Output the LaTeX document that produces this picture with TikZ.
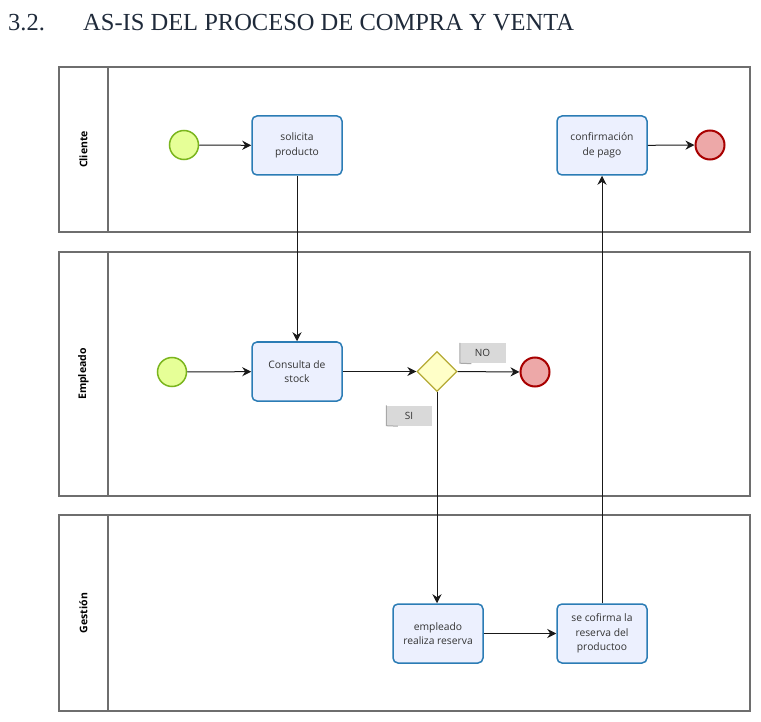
\documentclass[tikz,border=0pt]{standalone}
\usepackage{fontspec}
\setmainfont{Liberation Serif}
\newfontfamily\lblfont{Open Sans}
\usetikzlibrary{shapes.geometric,arrows.meta}
\definecolor{boxfill}{HTML}{ECF0FE}
\definecolor{boxdraw}{HTML}{2B7CB5}
\definecolor{startfill}{HTML}{E6FF97}
\definecolor{startdraw}{HTML}{7AB51D}
\definecolor{endfill}{HTML}{EDA8A8}
\definecolor{enddraw}{HTML}{A80000}
\definecolor{gwfill}{HTML}{FFFFC8}
\definecolor{gwdraw}{HTML}{B5A934}
\definecolor{lanedraw}{HTML}{6E6E6E}
\definecolor{tagfill}{HTML}{D9D9D9}
\definecolor{tagedge}{HTML}{A8A8A8}
\definecolor{titlecol}{HTML}{1F2A3A}
\tikzset{
  lane/.style={draw=lanedraw, line width=1.2pt},
  task/.style={draw=boxdraw, fill=boxfill, line width=1.5pt, rounded corners=5pt,
    minimum width=90pt, minimum height=59pt, align=center, inner sep=2pt,
    font=\lblfont\fontsize{10.3}{14.5}\selectfont, text=black!80},
  startev/.style={circle, draw=startdraw, fill=startfill, line width=1.5pt, minimum size=29pt, inner sep=0pt},
  endev/.style={circle, draw=enddraw, fill=endfill, line width=2pt, minimum size=29pt, inner sep=0pt},
  gateway/.style={diamond, draw=gwdraw, fill=gwfill, line width=1.3pt, minimum width=40pt, minimum height=40pt, inner sep=0pt},
  tag/.style={fill=tagfill, minimum width=46pt, minimum height=20pt, inner sep=0pt,
    font=\lblfont\fontsize{10}{10}\selectfont, text=black!80},
  tagline/.style={draw=tagedge, line width=1pt},
  lanelabel/.style={rotate=90, font=\lblfont\bfseries\fontsize{10.5}{12}\selectfont},
  flow/.style={draw=black!90, line width=1pt, -{Stealth[length=9pt,width=9pt]}}
}
\begin{document}
\begin{tikzpicture}[x=1pt,y=-1pt]
\useasboundingbox (0,0) rectangle (761,722);
% title
\node[anchor=west, inner sep=0pt, text=titlecol, font=\fontsize{24.5}{28}\selectfont] (title) at (8,23) {\makebox[75pt][l]{3.2.}AS-IS DEL PROCESO DE COMPRA Y VENTA};
% lanes
\draw[lane] (59,67) rectangle (750,232);
\draw[lane] (108,67) -- (108,232);
\draw[lane] (59,252) rectangle (750,496);
\draw[lane] (108,252) -- (108,496);
\draw[lane] (59,515) rectangle (750,711);
\draw[lane] (108,515) -- (108,711);
\node[lanelabel] (lc) at (83.5,149.5) {Cliente};
\node[lanelabel] (le) at (83.5,374) {Empleado};
\node[lanelabel] (lg) at (83.5,613) {Gestión};
% Cliente
\node[startev] (s1) at (184,145) {};
\node[task] (t1) at (297,145.5) {solicita\\producto};
\node[task] (t5) at (602,145.5) {confirmación\\de pago};
\node[endev] (e1) at (710,145) {};
% Empleado
\node[startev] (s2) at (172,372) {};
\node[task] (t2) at (297,371.5) {Consulta de\\stock};
\node[gateway] (g) at (437,371.5) {};
\node[endev] (e2) at (535,372) {};
\node[tag] (no) at (482.5,353) {NO};
\node[tag] (si) at (409,415.5) {SI};
\draw[tagline] ([xshift=0.5pt]no.north west) -- ([xshift=0.5pt]no.south west) -- ([xshift=12pt,yshift=-0.5pt]no.south west);
\draw[tagline] ([xshift=0.5pt]si.north west) -- ([xshift=0.5pt]si.south west) -- ([xshift=12pt,yshift=-0.5pt]si.south west);
% Gestion
\node[task] (t3) at (438,633.5) {empleado\\realiza reserva};
\node[task] (t4) at (602,633.5) {se cofirma la\\reserva del\\productoo};
% flows
\draw[flow] (s1) -- (t1);
\draw[flow] (t1.south) -- (t2.north);
\draw[flow] (s2) -- (t2);
\draw[flow] (t2) -- (g);
\draw[flow] (g) -- (e2);
\draw[flow] (g.south) -- (g.south |- t3.north);
\draw[flow] (t3) -- (t4);
\draw[flow] (t4.north) -- (t5.south);
\draw[flow] (t5) -- (e1);
\end{tikzpicture}
\end{document}
